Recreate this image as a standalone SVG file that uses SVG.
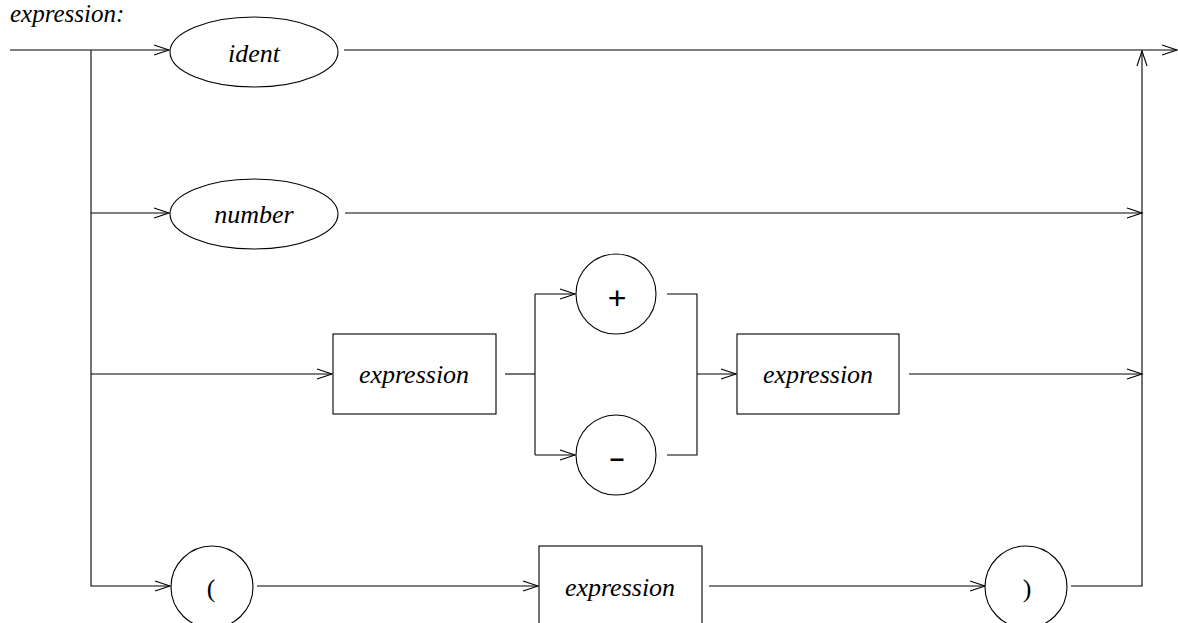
<svg xmlns="http://www.w3.org/2000/svg" width="1178" height="623" viewBox="0 0 1178 623">
<style>
.ln{fill:none;stroke:#000;stroke-width:1.1}
.sh{fill:#fff;stroke:#000;stroke-width:1.1}
.it{font-family:"Liberation Serif",serif;font-style:italic;font-size:26px;fill:#000;text-anchor:middle}
.rm{font-family:"Liberation Serif",serif;font-size:26px;fill:#000;text-anchor:middle}
.sy{font-family:"Liberation Sans",sans-serif;font-size:26px;fill:#000;text-anchor:middle}
</style>
<defs>
<marker id="ah" markerUnits="userSpaceOnUse" markerWidth="18" markerHeight="12" refX="15" refY="5" orient="auto" overflow="visible">
<path d="M0,0 L15,5 L0,10" fill="none" stroke="#000" stroke-width="1.1"/>
</marker>
</defs>
<text x="10" y="22" class="it" style="text-anchor:start;font-size:25px">expression:</text>
<g id="connectors">
<path class="ln" d="M10,50 H169" marker-end="url(#ah)"/>
<path class="ln" d="M91,50 V586 H170" marker-end="url(#ah)"/>
<path class="ln" d="M91,213 H169" marker-end="url(#ah)"/>
<path class="ln" d="M91,374 H332" marker-end="url(#ah)"/>
<path class="ln" d="M344,50 H1177" marker-end="url(#ah)"/>
<path class="ln" d="M345,213 H1142" marker-end="url(#ah)"/>
<path class="ln" d="M505,374 H535"/>
<path class="ln" d="M535,294 V455"/>
<path class="ln" d="M535,294 H575" marker-end="url(#ah)"/>
<path class="ln" d="M535,455 H575" marker-end="url(#ah)"/>
<path class="ln" d="M667,294 H697 V455 H667"/>
<path class="ln" d="M697,374 H736" marker-end="url(#ah)"/>
<path class="ln" d="M909,374 H1142" marker-end="url(#ah)"/>
<path class="ln" d="M257,586 H538" marker-end="url(#ah)"/>
<path class="ln" d="M709,586 H985" marker-end="url(#ah)"/>
<path class="ln" d="M1071,586 H1142 V51" marker-end="url(#ah)"/>
</g>
<g id="ident">
<ellipse class="sh" cx="254" cy="52" rx="84" ry="35"/>
<text x="254" y="62" class="it">ident</text>
</g>
<g id="number">
<ellipse class="sh" cx="254" cy="214" rx="84" ry="35"/>
<text x="254" y="223" class="it">number</text>
</g>
<g id="expr1">
<rect class="sh" x="333" y="334" width="163" height="80"/>
<text x="414" y="383" class="it">expression</text>
</g>
<g id="plus">
<circle class="sh" cx="616" cy="294" r="40"/>
<text x="617" y="309" class="sy" style="font-size:32px">+</text>
</g>
<g id="minus">
<circle class="sh" cx="616" cy="455" r="40"/>
<text x="617" y="467" class="sy" style="font-weight:bold">–</text>
</g>
<g id="expr2">
<rect class="sh" x="737" y="334" width="162" height="80"/>
<text x="818" y="383" class="it">expression</text>
</g>
<g id="lparen">
<circle class="sh" cx="212" cy="587" r="41"/>
<text x="211" y="597" class="rm">(</text>
</g>
<g id="expr3">
<rect class="sh" x="539" y="546" width="163" height="80"/>
<text x="620" y="596" class="it">expression</text>
</g>
<g id="rparen">
<circle class="sh" cx="1026" cy="587" r="41"/>
<text x="1027" y="597" class="rm">)</text>
</g>
</svg>
